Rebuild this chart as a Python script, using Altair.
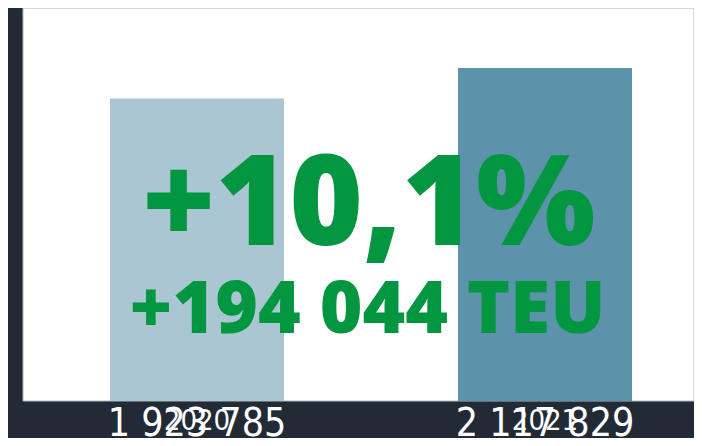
import altair as alt
import pandas as pd

# Data
years = ["2020", "2021"]
teu = [1923785, 2117829]
bar_colors = ["#a9c6d2", "#5c92aa"]
headline = "+10,1%"
subline = "+194 044 TEU"

labels = [f"{v:,}".replace(",", " ") for v in teu]
df = pd.DataFrame({"year": years, "teu": teu, "label": labels})

BG = "#222a36"
GREEN = "#039641"

x_scale = alt.Scale(domain=years, paddingInner=0.5, paddingOuter=0.2141, align=0.584)
y_scale = alt.Scale(domain=[0, 2500000])

base = alt.Chart(df)

panel = alt.Chart(pd.DataFrame({"k": [0]})).mark_rect(
    stroke="#b0b5ba", strokeWidth=1
).encode(color=alt.value("white"))

bars = base.mark_bar().encode(
    x=alt.X("year:N", scale=x_scale, axis=None),
    y=alt.Y("teu:Q", scale=y_scale, axis=None),
    color=alt.Color("year:N", scale=alt.Scale(domain=years, range=bar_colors), legend=None),
)

year_text = base.mark_text(
    font="DejaVu Sans Condensed", fontSize=29, color="white", baseline="alphabetic", dy=29
).encode(
    x=alt.X("year:N", scale=x_scale, axis=None),
    y=alt.Y(datum=0, scale=y_scale),
    text="year:N",
)

value_text = base.mark_text(
    font="DejaVu Sans Condensed", fontSize=39, color="white", baseline="alphabetic", dy=35
).encode(
    x=alt.X("year:N", scale=x_scale, axis=None),
    y=alt.Y(datum=0, scale=y_scale),
    text="label:N",
)

head = alt.Chart(pd.DataFrame({"t": [headline]})).mark_text(
    font="Open Sans", fontWeight=800, fontSize=126, color=GREEN, baseline="alphabetic", dy=40, dx=10
).encode(
    text="t:N",
)

sub = alt.Chart(pd.DataFrame({"t": [subline]})).mark_text(
    font="Open Sans", fontWeight=800, fontSize=73, color=GREEN, baseline="alphabetic", dy=128, dx=9
).encode(
    text="t:N",
)

chart = alt.layer(panel, bars, year_text, value_text, head, sub).properties(
    width=671,
    height=393,
    background=BG,
    padding={"left": 15, "top": 0, "right": 0, "bottom": 37},
    autosize=alt.AutoSizeParams(type="none"),
    usermeta={"embedOptions": {"defaultStyle": "html,body{background:#222a36;}svg{display:block;}"}},
).configure_view(stroke=None)

chart.save("out.html", embed_options={"renderer": "svg", "actions": False})
